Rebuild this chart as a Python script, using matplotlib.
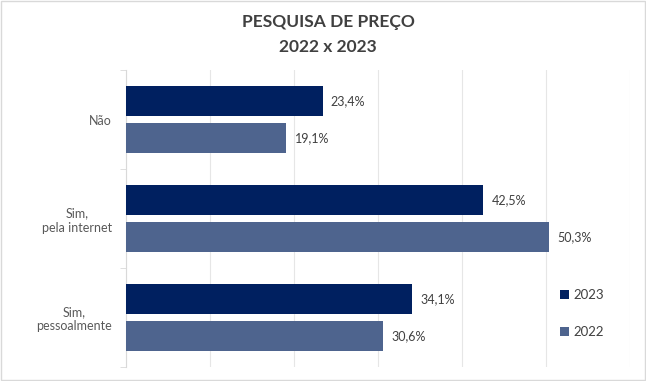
import numpy as np
import matplotlib
matplotlib.use("Agg")
from matplotlib import pyplot as plt
from matplotlib.patches import Rectangle

categories = ["Não", "Sim,\npela internet", "Sim,\npessoalmente"]
values_2023 = [23.4, 42.5, 34.1]
values_2022 = [19.1, 50.3, 30.6]
labels_2023 = ["23,4%", "42,5%", "34,1%"]
labels_2022 = ["19,1%", "50,3%", "30,6%"]

plt.rcParams['font.family'] = ['Lato', 'DejaVu Sans']

fig = plt.figure(figsize=(6.46, 3.81), dpi=100)
ax = fig.add_axes([126 / 646, 1 - 367 / 381, 504 / 646, 297 / 381])

y = np.arange(len(categories))
h = 0.30
gap = 0.035
c23 = "#002060"
c22 = "#4E648E"

b23 = ax.barh(y - h / 2 - gap, values_2023, height=h, color=c23, label="2023", zorder=3)
b22 = ax.barh(y + h / 2 + gap, values_2022, height=h, color=c22, label="2022", zorder=3)

for bars, labs in ((b23, labels_2023), (b22, labels_2022)):
    for bar, lab in zip(bars, labs):
        ax.annotate(lab, (bar.get_width(), bar.get_y() + bar.get_height() / 2),
                    xytext=(6, 0), textcoords="offset points",
                    va="center", ha="left", fontsize=9, color="#404040")

ax.set_xlim(0, 60)
ax.set_ylim(2.5, -0.5)
ax.set_xticks(np.arange(0, 61, 10))
ax.set_xticklabels([])
ax.tick_params(axis="x", length=0)
ax.grid(axis="x", color="#E6E6E6", linewidth=0.8, zorder=0)

ax.set_yticks(y)
ax.set_yticklabels(categories, fontsize=9, color="#595959", multialignment="center")
ax.tick_params(axis="y", length=0, pad=10)
ax.set_yticks([-0.5, 0.5, 1.5, 2.5], minor=True)
ax.tick_params(axis="y", which="minor", length=4, color="#D9D9D9")

for s in ("top", "right", "bottom"):
    ax.spines[s].set_visible(False)
ax.spines["left"].set_color("#D9D9D9")

fig.text(0.508, 1 - 22 / 381, "PESQUISA DE PREÇO", ha="center", va="center",
         fontsize=12.5, fontweight="bold", color="#404040")
fig.text(0.508, 1 - 47 / 381, "2022 x 2023", ha="center", va="center",
         fontsize=12.5, fontweight="bold", color="#404040")

ax.legend(loc="upper left", bbox_to_anchor=(548 / 646, 1 - 277 / 381),
          bbox_transform=fig.transFigure, frameon=False, fontsize=9.5,
          labelcolor="#404040", handlelength=0.7, handleheight=0.7,
          handletextpad=0.3, labelspacing=1.9)

fig.patches.append(Rectangle((0.002, 0.003), 0.996, 0.994, transform=fig.transFigure,
                             fill=False, edgecolor="#D9D9D9", linewidth=1))

fig.savefig("out.png", dpi=100)
